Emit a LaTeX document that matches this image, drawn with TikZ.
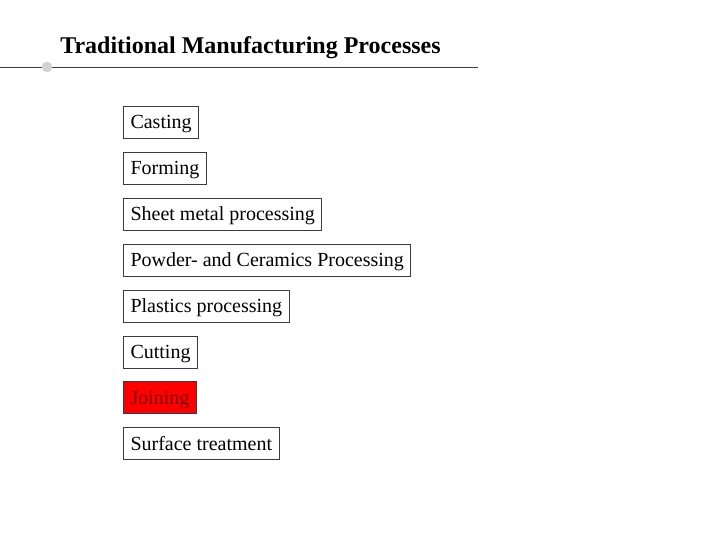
\documentclass[tikz,border=0pt]{standalone}
\usepackage{fontspec}
\setmainfont{Liberation Serif}
\definecolor{boxline}{HTML}{3A3A4A}
\definecolor{joinred}{HTML}{FF0000}
\definecolor{jointext}{HTML}{7A0000}
\tikzset{
  procbox/.style={draw=boxline, line width=0.75pt, anchor=west, minimum height=24pt,
    inner xsep=5.25pt, inner ysep=0pt, text height=11pt, text depth=1.25pt,
    font=\fontsize{15}{18}\selectfont, text=black},
  redbox/.style={procbox, fill=joinred, text=jointext}
}
\begin{document}
\begin{tikzpicture}[x=0.75pt,y=-0.75pt]
\useasboundingbox (0,0) rectangle (720,540);
\node[anchor=base west, font=\bfseries\fontsize{18}{22}\selectfont, inner sep=0pt] (title) at (60,53) {Traditional Manufacturing Processes};
\coordinate (l0) at (0,67);
\coordinate (l1) at (478,67);
\draw[boxline, line width=0.75pt] (l0) -- (l1);
\node[circle, fill=gray!35, minimum size=8pt, inner sep=0pt] (dot) at (47,67) {};
\node[procbox] (casting) at (123,122) {Casting};
\node[procbox] (forming) at (123,168) {Forming};
\node[procbox] (sheet) at (123,214) {Sheet metal processing};
\node[procbox] (powder) at (123,260) {Powder- and Ceramics Processing};
\node[procbox] (plastics) at (123,306) {Plastics processing};
\node[procbox] (cutting) at (123,352) {Cutting};
\node[redbox] (joining) at (123,397.5) {Joining};
\node[procbox] (surface) at (123,443.5) {Surface treatment};
\end{tikzpicture}
\end{document}
